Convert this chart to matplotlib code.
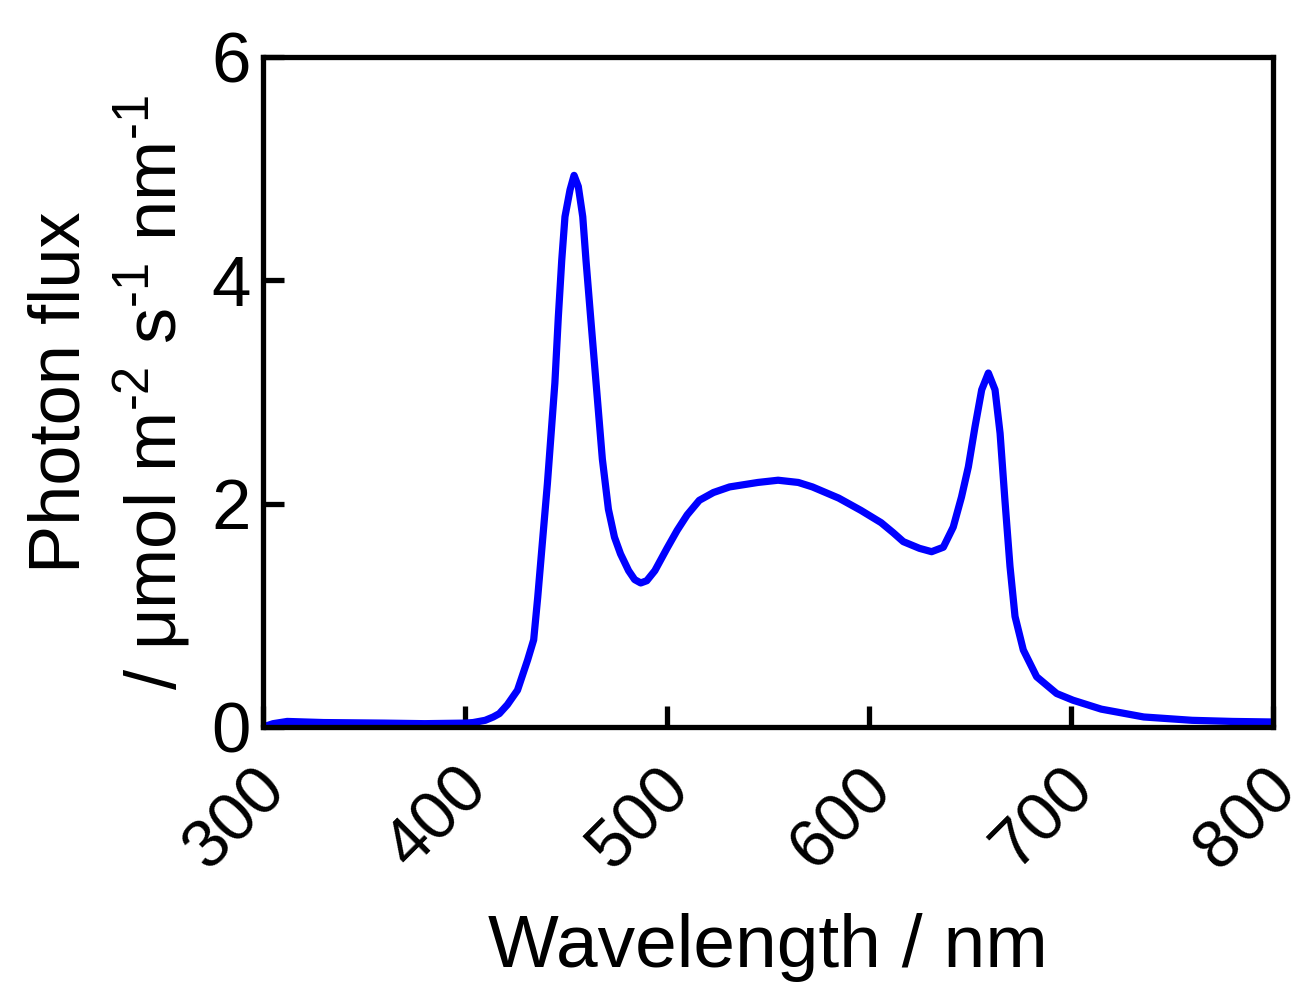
import numpy as np
import matplotlib
matplotlib.use("Agg")
import matplotlib.pyplot as plt
from matplotlib.transforms import ScaledTranslation

# spectrum
wavelength = [300, 305, 312, 330, 360, 380, 400, 404, 410, 414, 417, 421, 426,
              431, 434, 436, 440.8, 444.5, 446.2, 447.9, 449.5, 452, 454, 456.1,
              458.3, 459.9, 462.2, 464.9, 468, 471, 474, 477, 481, 484, 487, 490,
              494, 500, 505, 510, 516, 523, 531, 545, 555, 565, 572, 585, 596,
              606, 612, 617, 625, 631, 636.8, 641.7, 645.8, 649.2, 652.5, 655.8,
              659.1, 662.4, 664.9, 667.3, 669.8, 672.3, 676.4, 683, 692.9, 701,
              715, 736, 760, 780, 800]
photon_flux = [0.0, 0.03, 0.05, 0.04, 0.035, 0.03, 0.035, 0.04, 0.06, 0.09, 0.12,
               0.2, 0.33, 0.6, 0.78, 1.16, 2.18, 3.08, 3.67, 4.18, 4.57, 4.81, 4.94,
               4.84, 4.57, 4.18, 3.67, 3.08, 2.4, 1.95, 1.7, 1.55, 1.4, 1.32, 1.29,
               1.31, 1.4, 1.6, 1.76, 1.9, 2.03, 2.1, 2.15, 2.19, 2.21, 2.19, 2.15,
               2.05, 1.94, 1.83, 1.74, 1.66, 1.6, 1.57, 1.61, 1.79, 2.06, 2.33,
               2.69, 3.02, 3.17, 3.02, 2.63, 2.03, 1.44, 0.99, 0.69, 0.45, 0.3,
               0.24, 0.16, 0.09, 0.06, 0.05, 0.045]
xticks = [300, 400, 500, 600, 700, 800]
yticks = [0, 2, 4, 6]

plt.rcParams['font.family'] = ['Liberation Sans', 'DejaVu Sans']
plt.rcParams['mathtext.fontset'] = 'custom'
plt.rcParams['mathtext.rm'] = 'Liberation Sans'
plt.rcParams['mathtext.it'] = 'Liberation Sans'

fig = plt.figure(figsize=(13.11, 10.05), dpi=100)
ax = fig.add_axes([0.2006, 0.2766, 0.7704, 0.6667])

ax.plot(wavelength, photon_flux, color='#0000ff', lw=5.2,
        solid_joinstyle='round', solid_capstyle='round')

ax.set_xlim(300, 800)
ax.set_ylim(0, 6)
ax.set_xticks(xticks)
ax.set_yticks(yticks)
ax.set_xticklabels([str(t) for t in xticks], rotation=45, ha='right',
                   rotation_mode='anchor')
ax.tick_params(direction='in', length=15, width=3.8, labelsize=49, pad=12)
ax.tick_params(axis='y', pad=9, labelsize=51)
for sp in ax.spines.values():
    sp.set_linewidth(3.8)

# nudge the rotated labels a little left and down, like the original
shift = ScaledTranslation(-0.10, -0.12, fig.dpi_scale_trans)
for lbl in ax.get_xticklabels():
    lbl.set_transform(lbl.get_transform() + shift)

ax.set_xlabel('Wavelength / nm', fontsize=54, labelpad=23)
ax.set_ylabel('Photon flux\n/ μmol m$^{\\text{-2}}$ s$^{\\text{-1}}$ nm$^{\\text{-1}}$',
              fontsize=52, labelpad=14, linespacing=1.25)

fig.savefig('out.png', dpi=100)
